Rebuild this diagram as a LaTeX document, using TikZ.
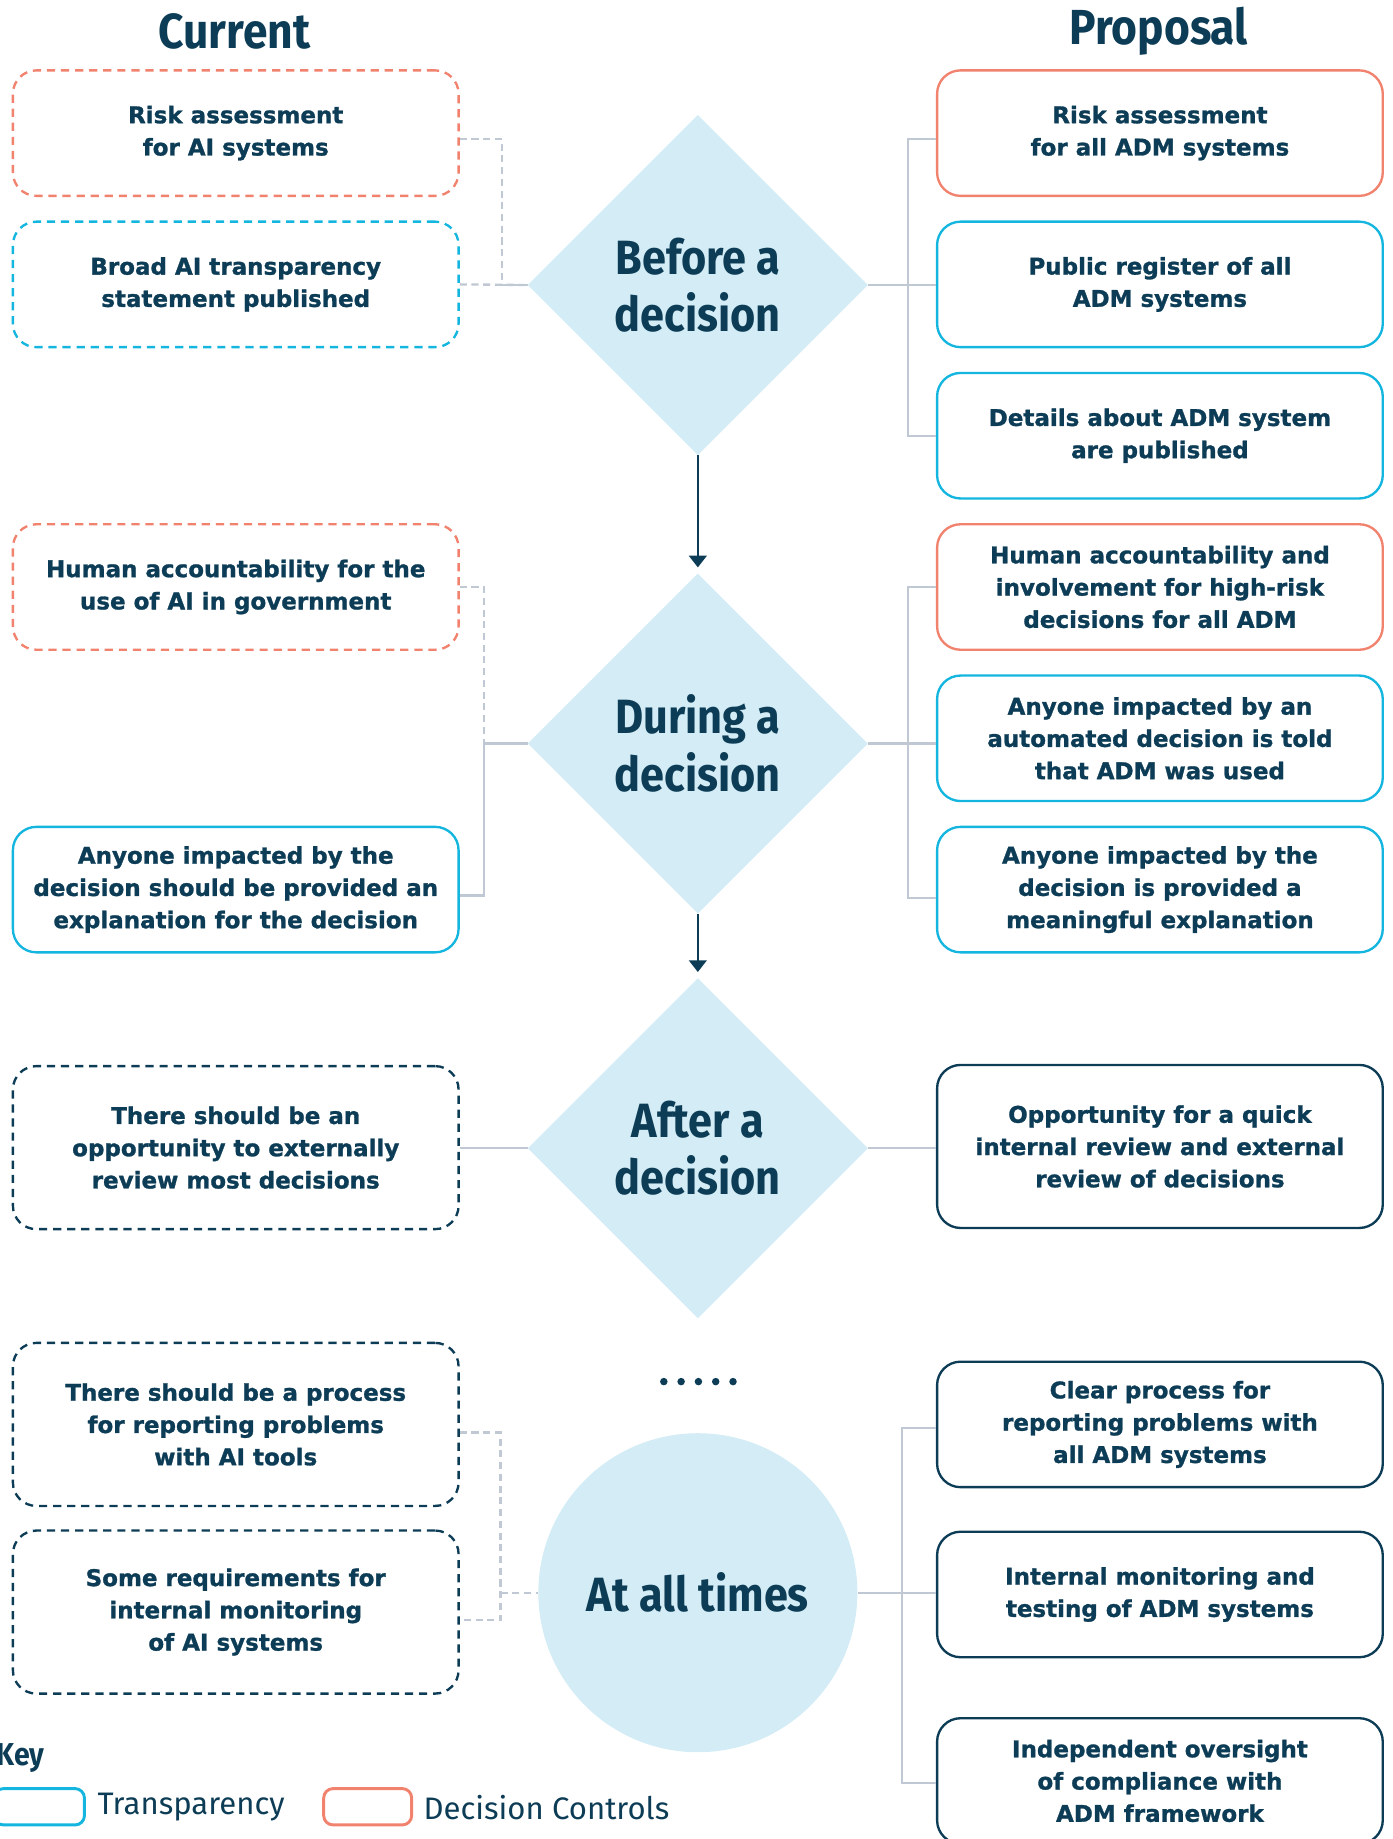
\documentclass[tikz,border=0pt]{standalone}
\usepackage{fontspec}
\setmainfont{DejaVu Sans}[BoldFeatures={FakeBold=1.2}]
\newfontfamily\headfont{Fira Sans}[FakeStretch=0.9]
\newfontfamily\keyfont{Fira Sans}
\usetikzlibrary{shapes.geometric,arrows.meta,calc}
\definecolor{navy}{HTML}{0D3D56}
\definecolor{salmon}{HTML}{F0826E}
\definecolor{cyanb}{HTML}{14B5DE}
\definecolor{paleblue}{HTML}{D3ECF5}
\definecolor{linegray}{HTML}{C0C8D3}
\tikzset{
  x=1pt, y=-1pt,
  box/.style={draw, rounded corners=20pt, line width=2pt, minimum width=380pt, align=center,
    text=navy, font=\fontsize{19.6}{27.5}\selectfont\bfseries, inner sep=0pt},
  h107/.style={minimum height=107pt},
  h139/.style={minimum height=139pt},
  tcol/.style={draw=cyanb},
  dcol/.style={draw=salmon},
  ncol/.style={draw=navy},
  dsh/.style={dash pattern=on 7pt off 5pt},
  stage/.style={diamond, fill=paleblue, minimum width=290pt, minimum height=290pt, inner sep=0pt,
    align=center, text=navy, font=\fontsize{41}{49}\headfont\bfseries},
  conn/.style={draw=linegray, line width=2pt},
  dconn/.style={conn, dash pattern=on 6pt off 4pt},
  flow/.style={draw=navy, line width=2pt, -{Triangle[width=15pt,length=10pt]}, shorten >=5pt},
  title/.style={text=navy, font=\fontsize{42}{50}\headfont\bfseries},
}
\begin{document}
\begin{tikzpicture}
\useasboundingbox (0,0) rectangle (1187,1568);
% titles
\node[title] (tcur) at (200,27) {Current};
\node[title] (tprop) at (988,27) {Proposal};
% stages
\node[stage] (D1) at (595,243) {Before a\\decision};
\node[stage] (D2) at (595,634) {During a\\decision};
\node[stage] (D3) at (595,979) {After a\\decision};
\node[circle, fill=paleblue, minimum size=272pt, inner sep=0pt, text=navy,
      font=\fontsize{41}{49}\headfont\bfseries] (C) at (595,1358) {At all times};
% left boxes
\node[box,h107,dcol,dsh] (L1) at (201,113.5) {Risk assessment\\for AI systems};
\node[box,h107,tcol,dsh] (L2) at (201,242.5) {Broad AI transparency\\statement published};
\node[box,h107,dcol,dsh] (L3) at (201,500.5) {Human accountability for the\\use of AI in government};
\node[box,h107,tcol] (L4) at (201,758.5) {Anyone impacted by the\\decision should be provided an\\explanation for the decision};
\node[box,h139,ncol,dsh] (L5) at (201,978.5) {There should be an\\opportunity to externally\\review most decisions};
\node[box,h139,ncol,dsh] (L6) at (201,1214.5) {There should be a process\\for reporting problems\\with AI tools};
\node[box,h139,ncol,dsh] (L7) at (201,1374.5) {Some requirements for\\internal monitoring\\of AI systems};
% right boxes
\node[box,h107,dcol] (R1) at (989,113.5) {Risk assessment\\for all ADM systems};
\node[box,h107,tcol] (R2) at (989,242.5) {Public register of all\\ADM systems};
\node[box,h107,tcol] (R3) at (989,371.5) {Details about ADM system\\are published};
\node[box,h107,dcol] (R4) at (989,500.5) {Human accountability and\\involvement for high-risk\\decisions for all ADM};
\node[box,h107,tcol] (R5) at (989,629.5) {Anyone impacted by an\\automated decision is told\\that ADM was used};
\node[box,h107,tcol] (R6) at (989,758.5) {Anyone impacted by the\\decision is provided a\\meaningful explanation};
\node[box,h139,ncol] (R7) at (989,977.5) {Opportunity for a quick\\internal review and external\\review of decisions};
\node[box,h107,ncol] (R8) at (989,1214.5) {Clear process for\\reporting problems with\\all ADM systems};
\node[box,h107,ncol] (R9) at (989,1359.5) {Internal monitoring and\\testing of ADM systems};
\node[box,h107,ncol] (R10) at (989,1518.5) {Independent oversight\\of compliance with\\ADM framework};
% flow arrows
\draw[flow] (D1.south) -- (D2.north);
\draw[flow] (D2.south) -- (D3.north);
% dots
\foreach \i in {0,...,4} \fill[navy] (566+\i*14.75,1178) circle (3.2pt);
% before connectors
\draw[dconn] ($(L1.east)+(0,5)$) -- ++(36,0) |- (D1.west);
\draw[dconn] (L2.east) -- (D1.west);
\draw[conn] (D1.east) -- (D1.east -| R2.west);
\draw[conn] ($(R1.west)+(0,5)$) -- ++(-24,0) |- (R3.west);
% during connectors
\coordinate (j2) at ($(D2.west)+(-37,0)$);
\draw[dconn] (L3.east) -| (j2);
\draw[conn] (L4.east) ++(0,5) -| (j2) -- (D2.west);
\draw[conn] (D2.east) -- (D2.east -| R5.west);
\draw[conn] (R4.west) -- ++(-24,0) |- ($(R6.west)+(0,7)$);
% after connectors
\draw[conn] (D3.west -| L5.east) -- (D3.west);
\draw[conn] (D3.east) -- (D3.east -| R7.west);
% all times connectors
\coordinate (j4) at ($(C.west)+(-32,0)$);
\draw[dconn] ($(L6.east)+(0,7)$) -| (j4) |- ($(L7.east)+(0,7)$);
\draw[dconn] (j4) -- (C.west);
\draw[conn] (C.east) -- (C.east -| R9.west);
\draw[conn] ($(R8.west)+(0,3)$) -- ++(-29,0) |- ($(R10.west)+(0,2)$);
% key
\node[anchor=west, text=navy, font=\fontsize{27}{30}\headfont\bfseries, inner sep=0pt] (key) at (-3,1499) {Key};
\draw[cyanb, line width=2.5pt, rounded corners=8pt] (-5,1525) rectangle (72,1556);
\node[anchor=west, text=navy, font=\fontsize{26.5}{30}\keyfont, inner sep=0pt] (kt) at (83,1541) {Transparency};
\draw[salmon, line width=2.5pt, rounded corners=8pt] (276,1525) rectangle (351,1556);
\node[anchor=west, text=navy, font=\fontsize{26.5}{30}\keyfont, inner sep=0pt] (kd) at (361,1541) {Decision Controls};
\end{tikzpicture}
\end{document}
